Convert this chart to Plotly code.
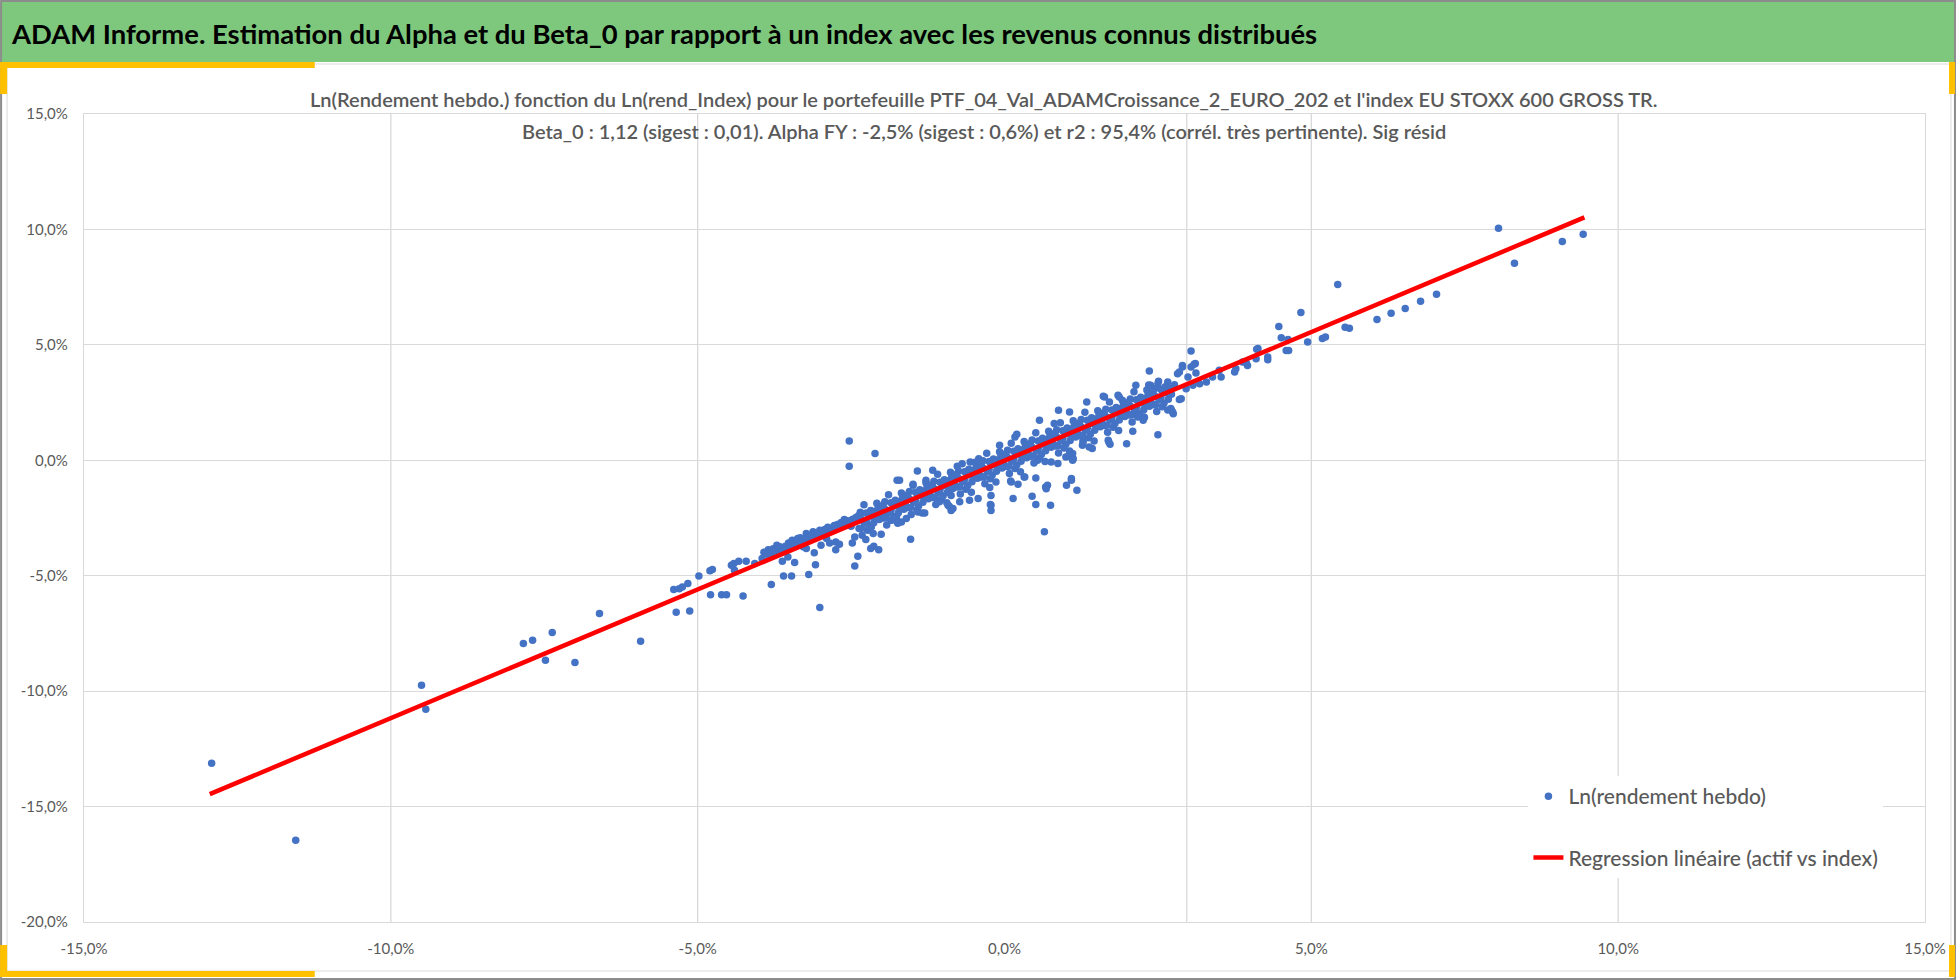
import plotly.graph_objects as go

# ---------------- data (values in %) ----------------
# hand-read points of the cloud (index weekly log-return, portfolio weekly log-return)
read_x = [-12.92, -11.55, -9.50, -9.43, -7.84, -7.69, -7.37, -7.48, -7.00, -6.60, -5.93,
          -5.39, -5.30, -5.25, -5.16, -5.35, -5.13, -4.98, -4.80, -4.76, -4.79, -4.61, -4.53, -4.26,
          -4.45, -4.41, -4.40, -4.33, -4.21, -4.07, -3.80, -3.60, -3.47, -3.62, -3.42,
          -3.77, -3.71, -3.58, -3.53, -3.46, -3.37, -3.23, -3.12, -3.01, -2.93,
          -3.28, -3.23, -3.10, -3.08, -3.19, -3.01, -2.77, -2.69, -2.61, -2.58,
          -2.90, -2.85, -2.75, -2.69, -2.75, -2.99, -2.48, -2.44, -2.39, -2.44, -2.26,
          -2.18, -2.13, -2.05, -2.01, -2.42, -2.33, -2.31, -2.25, -2.17, -2.14, -2.01, -1.95,
          -1.85, -1.76, -1.68, -1.60, -1.53, -1.41, -1.30, -1.06, -0.90, -0.87,
          -0.73, -0.57, -0.43, -0.22, -0.22, 0.14, 0.22, 0.11,
          -2.53, -2.53, -2.11, -1.75, -1.42, -1.17, -0.77, -0.24, 0.10, 0.32, 0.51, -0.23,
          0.45, 0.51, 0.75, 0.65, 0.67, 0.70, 1.01, 1.09, 1.18, 1.12, 1.04,
          1.69, 1.72, 1.99, 2.09, 2.50, 2.13, 2.27, 2.72, 2.75, 2.38, 2.50, 2.66, 2.88,
          1.34, 1.63, 1.85, 0.57, 0.88, -0.08, 0.17, 0.33, 0.68,
          1.00, 1.11, 1.11, 0.87, 0.76, 0.54, 1.27, 1.43, 1.70, -0.56, -0.42,
          0.20, 0.81, 1.06, 1.61, 1.87, 2.14, 2.35,
          -1.71, -1.49, -1.28, -1.00, -0.87, -0.84, -0.41, -0.22, -0.92,
          2.71, 2.74, 2.85, 3.04, 2.90, 2.82, 3.09, 3.12, 2.99, 2.36, 2.28, 1.38, 1.28, 1.09,
          2.96, 3.07, 3.18, 3.29, 3.39, 3.50, 3.53, 3.77, 3.75, 3.88, 3.96, 4.10, 4.13, 4.29, 4.29,
          4.59, 4.62, 4.51, 4.94, 5.18, 5.23, 5.43, 4.83, 4.47, 2.85, 2.90, 3.04, 3.11, 3.94, 4.11,
          4.63, 5.62, 6.07, 6.30, 6.53, 6.78, 7.04, 8.05, 8.31, 9.09, 9.43, 5.55,
          -3.92, -3.85, -3.66, -3.52, -3.40, -3.33, -3.17, -3.05, -2.96, -2.88, -2.81, -2.72,
          -2.66, -2.56, -2.50, -2.47]
read_y = [-13.12, -16.46, -9.74, -10.78, -7.94, -7.80, -7.46, -8.66, -8.76, -6.64, -7.84,
          -5.60, -5.56, -5.49, -5.34, -6.58, -6.53, -5.01, -4.79, -4.73, -5.82, -5.82, -5.82, -5.88,
          -4.55, -4.47, -4.76, -4.37, -4.37, -4.47, -5.38, -5.01, -5.01, -4.37, -4.43,
          -3.83, -3.68, -3.90, -4.19, -3.46, -3.39, -3.17, -3.10, -3.03, -3.00,
          -3.75, -3.82, -4.01, -4.52, -4.95, -6.38, -2.82, -2.89, -2.57, -2.74,
          -3.39, -3.58, -3.54, -3.64, -3.87, -3.68, -3.58, -3.32, -4.16, -4.58, -3.43,
          -3.82, -3.72, -3.87, -3.20, -2.48, -2.31, -2.60, -2.72, -2.89, -2.24, -2.02, -2.31,
          -2.60, -2.46, -2.67, -2.52, -3.42, -2.24, -2.28, -1.80, -1.99, -2.17,
          -1.80, -1.73, -1.66, -1.95, -2.17, -1.66, -1.04, -0.94,
          0.84, -0.26, 0.29, -0.87, -0.46, -0.43, -0.26, -1.18, -0.90, -0.72, -0.77, -1.91,
          -1.56, -1.91, -1.95, -3.10, -1.16, -1.08, -1.08, -0.87, -1.30, 0.07, 0.17,
          0.87, 0.69, 0.72, 1.26, 1.11, 2.09, 1.88, 2.17, 2.02, 3.25, 3.32, 3.39, 2.67,
          2.52, 2.74, 2.82, 1.73, 2.17, 0.65, 1.01, -0.72, -1.23,
          0.14, 0.29, 0.00, -0.14, -0.07, 0.00, 0.65, 0.51, 0.79, -0.07, 0.07,
          1.13, 1.59, 2.09, 2.77, 2.74, 3.25, 3.26,
          -0.87, -1.08, -0.87, -0.94, -1.52, -2.09, -0.72, -1.52, -1.95,
          2.24, 2.09, 2.63, 4.73, 4.11, 3.75, 4.16, 3.78, 3.61, 3.87, 1.85, 0.58, 0.87, -0.79,
          3.10, 3.25, 3.32, 3.39, 3.61, 3.90, 3.61, 3.97, 3.82, 4.26, 4.11, 4.40, 4.84, 4.47, 4.36,
          4.76, 5.23, 5.31, 5.12, 5.27, 5.34, 7.61, 6.40, 5.79, 3.82, 4.04, 4.04, 4.19, 4.21, 4.81,
          4.76, 5.72, 6.10, 6.37, 6.58, 6.89, 7.19, 10.05, 8.53, 9.48, 9.79, 5.76,
          -3.98, -3.88, -3.75, -3.58, -3.50, -3.36, -3.28, -3.15, -3.08, -2.90, -3.02, -2.78,
          -2.70, -2.62, -2.86, -2.55]

# estimated points of the dense core of the cloud
core_x = [-2.40, -2.37, -2.35, -2.32, -2.28, -2.25, -2.23, -2.29, -2.16, -2.20, -2.12, -2.14,
          -2.04, -2.08, -2.01, -2.06, -2.00, -1.97, -1.95, -1.92, -1.88, -1.85, -1.83, -1.89,
          -1.76, -1.80, -1.72, -1.74, -1.64, -1.68, -1.61, -1.66, -1.60, -1.57, -1.55, -1.52,
          -1.48, -1.45, -1.43, -1.49, -1.36, -1.40, -1.32, -1.34, -1.24, -1.28, -1.21, -1.26,
          -1.20, -1.17, -1.15, -1.12, -1.08, -1.05, -1.03, -1.09, -0.96, -1.00, -0.92, -0.94,
          -0.84, -0.88, -0.81, -0.86, -0.80, -0.77, -0.75, -0.72, -0.68, -0.65, -0.63, -0.69,
          -0.56, -0.60, -0.52, -0.54, -0.44, -0.48, -0.41, -0.46, -0.40, -0.37, -0.35, -0.32,
          -0.28, -0.25, -0.23, -0.29, -0.16, -0.20, -0.12, -0.14, -0.04, -0.08, -0.01, -0.06,
          0.00, 0.03, 0.05, 0.08, 0.12, 0.15, 0.17, 0.11, 0.24, 0.20, 0.28, 0.26,
          0.36, 0.32, 0.39, 0.34, 0.40, 0.43, 0.45, 0.48, 0.52, 0.55, 0.57, 0.51,
          0.64, 0.60, 0.68, 0.66, 0.76, 0.72, 0.79, 0.74, 0.80, 0.83, 0.85, 0.88,
          0.92, 0.95, 0.97, 0.91, 1.04, 1.00, 1.08, 1.06, 1.16, 1.12, 1.19, 1.14,
          1.20, 1.23, 1.25, 1.28, 1.32, 1.35, 1.37, 1.31, 1.44, 1.40, 1.48, 1.46,
          1.56, 1.52, 1.59, 1.54, 1.60, 1.63, 1.65, 1.68, 1.72, 1.75, 1.77, 1.71,
          1.84, 1.80, 1.88, 1.86, 1.96, 1.92, 1.99, 1.94, 2.00, 2.03, 2.05, 2.08,
          2.12, 2.15, 2.17, 2.11, 2.24, 2.20, 2.28, 2.26, 2.36, 2.32, 2.39, 2.34,
          2.40, 2.43, 2.45, 2.48, 2.52, 2.55, 2.57, 2.51, 2.64, 2.60, 2.68, 2.66,
          -2.35, -2.25, -2.15, -2.05, -1.95, -1.85, -1.75, -1.65, -1.55, -1.45, -1.35, -1.25,
          -1.15, -1.05, -0.95, -0.85, -0.75, -0.65, -0.55, -0.45, -0.35, -0.25, -0.15, -0.05,
          0.05, 0.15, 0.25, 0.35, 0.45, 0.55, 0.65, 0.75, 0.85, 0.95, 1.05, 1.15,
          1.25, 1.35, 1.45, 1.55, 1.65, 1.75, 1.85, 1.95, 2.05, 2.15, 2.25, 2.35, 2.45, 2.55]
core_y = [-2.55, -2.95, -2.25, -3.25, -2.68, -2.28, -3.03, -1.93, -2.42, -2.87, -2.22, -3.17,
          -2.56, -1.86, -2.41, -2.01, -2.10, -2.50, -1.80, -2.80, -2.24, -1.84, -2.59, -1.49,
          -1.98, -2.43, -1.78, -2.73, -2.12, -1.42, -1.97, -1.57, -1.65, -2.05, -1.35, -2.35,
          -1.79, -1.39, -2.14, -1.04, -1.53, -1.98, -1.33, -2.28, -1.67, -0.97, -1.52, -1.12,
          -1.21, -1.61, -0.91, -1.91, -1.35, -0.95, -1.70, -0.60, -1.09, -1.54, -0.89, -1.84,
          -1.22, -0.52, -1.07, -0.67, -0.76, -1.16, -0.46, -1.46, -0.90, -0.50, -1.25, -0.15,
          -0.64, -1.09, -0.44, -1.39, -0.78, -0.08, -0.63, -0.23, -0.32, -0.72, -0.02, -1.02,
          -0.45, -0.05, -0.80, 0.30, -0.19, -0.64, 0.01, -0.94, -0.33, 0.37, -0.18, 0.22,
          0.13, -0.27, 0.43, -0.57, -0.01, 0.39, -0.36, 0.74, 0.25, -0.20, 0.45, -0.50,
          0.11, 0.81, 0.26, 0.66, 0.58, 0.18, 0.88, -0.12, 0.44, 0.84, 0.09, 1.19,
          0.70, 0.25, 0.90, -0.05, 0.56, 1.26, 0.71, 1.11, 1.02, 0.62, 1.32, 0.32,
          0.88, 1.28, 0.53, 1.63, 1.15, 0.70, 1.35, 0.40, 1.01, 1.71, 1.16, 1.56,
          1.47, 1.07, 1.77, 0.77, 1.33, 1.73, 0.98, 2.08, 1.59, 1.14, 1.79, 0.84,
          1.45, 2.15, 1.60, 2.00, 1.91, 1.51, 2.21, 1.21, 1.78, 2.18, 1.43, 2.53,
          2.04, 1.59, 2.24, 1.29, 1.90, 2.60, 2.05, 2.45, 2.36, 1.96, 2.66, 1.66,
          2.22, 2.62, 1.87, 2.97, 2.48, 2.03, 2.68, 1.73, 2.34, 3.04, 2.49, 2.89,
          2.81, 2.41, 3.11, 2.11, 2.67, 3.07, 2.32, 3.42, 2.93, 2.48, 3.13, 2.18,
          -2.56, -2.61, -2.34, -2.39, -2.11, -2.16, -1.89, -1.94, -1.67, -1.72, -1.45, -1.49,
          -1.22, -1.27, -1.00, -1.05, -0.78, -0.82, -0.55, -0.60, -0.33, -0.38, -0.11, -0.16,
          0.12, 0.07, 0.34, 0.29, 0.56, 0.51, 0.78, 0.74, 1.01, 0.96, 1.23, 1.18,
          1.45, 1.41, 1.68, 1.63, 1.90, 1.85, 2.12, 2.07, 2.35, 2.30, 2.57, 2.52, 2.79, 2.74]

# further estimated points of the band (lower-left arm and core)
band_x = [-3.88, -3.95, -3.78, -3.83, -3.68, -3.73, -3.57, -3.63, -3.47, -3.52, -3.38, -3.43,
          -3.27, -3.32, -3.18, -3.22, -3.07, -3.13, -2.98, -3.03, -2.87, -2.92, -2.78, -2.83,
          -2.68, -2.72, -2.57, -2.63, -2.48, -2.52,
          -2.38, -2.33, -2.28, -2.23, -2.18, -2.13, -2.08, -2.03, -1.98, -1.93, -1.88, -1.83,
          -1.78, -1.73, -1.68, -1.63, -1.58, -1.53, -1.48, -1.43, -1.38, -1.33, -1.28, -1.23,
          -1.18, -1.13, -1.08, -1.03, -0.98, -0.93, -0.88, -0.83, -0.78, -0.73, -0.68, -0.63,
          -0.58, -0.53, -0.48, -0.43, -0.38, -0.33, -0.28, -0.23, -0.18, -0.13, -0.08, -0.03,
          0.02, 0.07, 0.12, 0.17, 0.22, 0.27, 0.32, 0.37, 0.42, 0.47, 0.52, 0.57,
          0.62, 0.67, 0.72, 0.77, 0.82, 0.87, 0.92, 0.97, 1.02, 1.07, 1.12, 1.17,
          1.22, 1.27, 1.32, 1.37, 1.42, 1.47, 1.52, 1.57, 1.62, 1.67, 1.72, 1.77,
          1.82, 1.87, 1.92, 1.97, 2.02, 2.07, 2.12, 2.17, 2.22, 2.27, 2.32, 2.37,
          2.42, 2.47, 2.52, 2.57, 2.62, 2.67, 2.72, 2.77]
band_y = [-4.05, -4.25, -3.95, -4.15, -3.85, -4.05, -3.72, -3.95, -3.62, -3.80, -3.50, -3.70,
          -3.40, -3.60, -3.28, -3.48, -3.18, -3.38, -3.08, -3.25, -2.98, -3.15, -2.85, -3.05,
          -2.75, -2.92, -2.66, -2.82, -2.58, -2.72,
          -2.40, -2.94, -2.71, -2.30, -2.17, -2.71, -2.49, -2.08, -1.95, -2.49, -2.27, -1.86,
          -1.73, -2.27, -2.05, -1.64, -1.50, -2.04, -1.82, -1.41, -1.28, -1.82, -1.60, -1.19,
          -1.06, -1.60, -1.38, -0.97, -0.84, -1.38, -1.15, -0.74, -0.61, -1.15, -0.93, -0.52,
          -0.39, -0.93, -0.71, -0.30, -0.17, -0.71, -0.48, -0.07, 0.06, -0.48, -0.26, 0.15,
          0.28, -0.26, -0.04, 0.37, 0.50, -0.04, 0.18, 0.59, 0.73, 0.19, 0.41, 0.82,
          0.95, 0.41, 0.63, 1.04, 1.17, 0.63, 0.85, 1.26, 1.40, 0.86, 1.08, 1.49,
          1.62, 1.08, 1.30, 1.71, 1.84, 1.30, 1.52, 1.93, 2.06, 1.52, 1.75, 2.16,
          2.29, 1.75, 1.97, 2.38, 2.51, 1.97, 2.19, 2.60, 2.73, 2.19, 2.41, 2.82,
          2.96, 2.42, 2.64, 3.05, 3.18, 2.64, 2.86, 3.27]

# regression line end points (actif vs index)
reg_x = [-12.95, 9.45]
reg_y = [-14.46, 10.52]

x_ticks = [-15, -10, -5, 0, 5, 10, 15]
x_labels = ["-15,0%", "-10,0%", "-5,0%", "0,0%", "5,0%", "10,0%", "15,0%"]
y_ticks = [-20, -15, -10, -5, 0, 5, 10, 15]
y_labels = ["-20,0%", "-15,0%", "-10,0%", "-5,0%", "0,0%", "5,0%", "10,0%", "15,0%"]
x_grid = [-10, -5, 5, 10]
x_cross = 2.97

title_txt = "ADAM Informe. Estimation du Alpha et du Beta_0 par rapport à un index avec les revenus connus distribués"
sub1 = "Ln(Rendement hebdo.) fonction du Ln(rend_Index) pour le portefeuille PTF_04_Val_ADAMCroissance_2_EURO_202 et l'index EU STOXX 600 GROSS TR."
sub2 = "Beta_0 : 1,12 (sigest : 0,01). Alpha FY : -2,5% (sigest : 0,6%) et r2 : 95,4% (corrél. très pertinente). Sig résid"

# ---------------- layout geometry ----------------
W, H = 1958, 980
L, R, T, B = 84, 31, 114, 58
PW, PH = W - L - R, H - T - B

def fx(px):
    return (px - L) / PW

def fy(py):
    return (H - B - py) / PH

FONT = "Lato, 'Open Sans', sans-serif"
GRID = "#d9d9d9"
TXT = "#595959"
GOLD = "#ffc000"

fig = go.Figure()
fig.add_trace(go.Scatter(
    x=read_x + core_x + band_x, y=read_y + core_y + band_y, mode="markers",
    name="Ln(rendement hebdo)", legendgroup="a",
    marker=dict(color="#4472c4", size=7.5, line=dict(width=0)),
))
fig.add_trace(go.Scatter(
    x=reg_x, y=reg_y, mode="lines",
    name="Regression linéaire (actif vs index)", legendgroup="b",
    line=dict(color="#ff0000", width=4.5),
))

shapes = []
for g in x_grid + [x_cross]:
    shapes.append(dict(type="line", xref="x", yref="paper", x0=g, x1=g, y0=0, y1=1,
                       line=dict(color=GRID, width=1.3), layer="below"))

def rect(x0, y0, x1, y1, fill=None, line=None, width=0):
    d = dict(type="rect", xref="paper", yref="paper",
             x0=fx(x0), x1=fx(x1), y0=fy(y1), y1=fy(y0), layer="above")
    d["fillcolor"] = fill if fill else "rgba(0,0,0,0)"
    d["line"] = dict(color=line if line else "rgba(0,0,0,0)", width=width)
    return d

shapes.append(rect(0, 2, 1958, 62, fill="#7ec87e"))
shapes.append(rect(7, 64, 1953, 971, line="#d9d9d9", width=1))
shapes.append(rect(1, 1, 1957, 979, line="#8c8c8c", width=2))
shapes.append(rect(0, 62, 315, 68, fill=GOLD))
shapes.append(rect(0, 62, 7, 94, fill=GOLD))
shapes.append(rect(0, 971, 315, 977, fill=GOLD))
shapes.append(rect(0, 945, 7, 977, fill=GOLD))
shapes.append(rect(1951, 62, 1957, 94, fill=GOLD))
shapes.append(rect(1951, 945, 1957, 977, fill=GOLD))

annotations = [
    dict(text=title_txt, x=fx(9), y=fy(33), xref="paper", yref="paper",
         xanchor="left", yanchor="middle", showarrow=False,
         font=dict(family=FONT, size=27.4, color="#000000", weight="bold")),
    dict(text=sub1, x=fx(985), y=fy(99), xref="paper", yref="paper",
         xanchor="center", yanchor="middle", showarrow=False,
         font=dict(family=FONT, size=20, color=TXT, weight=600)),
    dict(text=sub2, x=fx(985), y=fy(131), xref="paper", yref="paper",
         xanchor="center", yanchor="middle", showarrow=False,
         font=dict(family=FONT, size=20, color=TXT, weight=600)),
]

fig.update_layout(
    width=W, height=H,
    margin=dict(l=L, r=R, t=T, b=B, pad=0),
    paper_bgcolor="white", plot_bgcolor="white",
    font=dict(family=FONT, color=TXT, size=15),
    shapes=shapes, annotations=annotations,
    showlegend=True,
    legend=dict(x=fx(1530), y=fy(776), xanchor="left", yanchor="top",
                bgcolor="white", borderwidth=0, tracegroupgap=31,
                font=dict(family=FONT, size=21, color=TXT, weight=500)),
    xaxis=dict(range=[-15, 15], tickvals=x_ticks, ticktext=x_labels,
               showgrid=False, zeroline=False, showline=True, mirror=True,
               linecolor=GRID, linewidth=1.3, ticks="", ticklabelstandoff=13,
               tickfont=dict(family=FONT, size=15, color=TXT), fixedrange=True),
    yaxis=dict(range=[-20, 15], tickvals=y_ticks, ticktext=y_labels,
               showgrid=True, gridcolor=GRID, gridwidth=1.3, zeroline=False,
               showline=True, mirror=True, linecolor=GRID, linewidth=1.3,
               ticks="", ticklabelstandoff=12,
               tickfont=dict(family=FONT, size=15, color=TXT), fixedrange=True),
)

fig.write_html("out.html", config={"displayModeBar": False},
               post_script="document.body.style.margin='0';")
